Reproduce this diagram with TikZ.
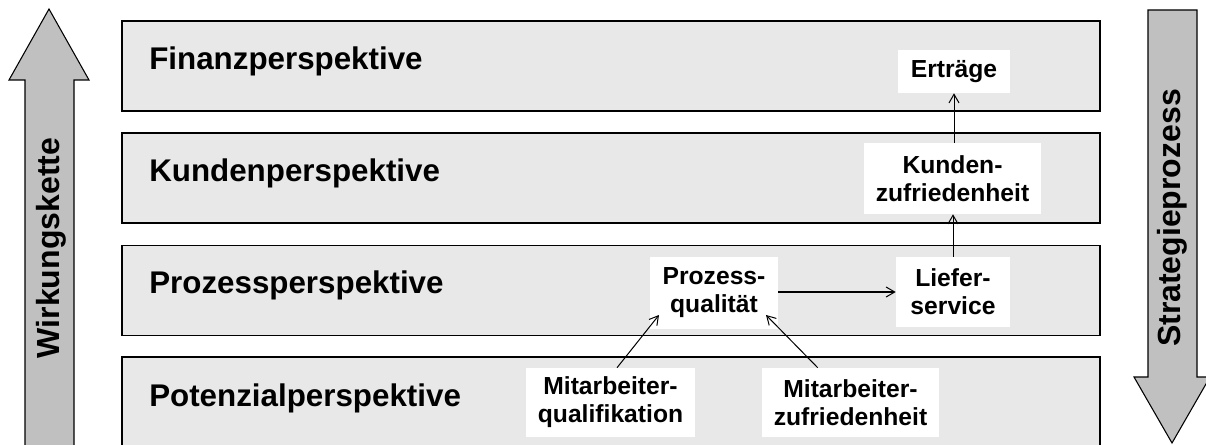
\documentclass[tikz,border=0pt]{standalone}
\usepackage{fontspec}
\setmainfont{Liberation Sans}
\usetikzlibrary{arrows.meta,calc}
\definecolor{bandgrey}{HTML}{E8E8E8}
\definecolor{arrowgrey}{HTML}{C0C0C0}
\tikzset{
  band/.style={draw=black, line width=1.1pt, fill=bandgrey, minimum width=733.5pt, minimum height=67.5pt, inner sep=0pt},
  bandtext/.style={anchor=base west, inner sep=0pt, font=\fontsize{23.5pt}{28pt}\selectfont\bfseries},
  kpi/.style={fill=white, inner sep=0pt, align=center, font=\fontsize{18.5pt}{21pt}\selectfont\bfseries},
  bigarrow/.style={draw=black, line width=0.8pt, fill=arrowgrey, line join=miter},
  bigtext/.style={rotate=90, anchor=base, inner sep=0pt, font=\fontsize{24pt}{28pt}\selectfont\bfseries},
  conn/.style={draw=black, line width=0.75pt, -{Straight Barb[length=6.5pt,width=7.5pt]}}
}
\begin{document}
\begin{tikzpicture}[x=0.75pt, y=-0.75pt]
\useasboundingbox[fill=white] (0,0) rectangle (1206,445);
% bands
\node[band] (b1) at (611,66) {};
\node[band] (b2) at (611,178) {};
\node[band] (b3) at (611,290.5) {};
\node[band] (b4) at (611,402) {};
\node[bandtext] (t1) at (149,70) {Finanzperspektive};
\node[bandtext] (t2) at (149,182) {Kundenperspektive};
\node[bandtext] (t3) at (149,294) {Prozessperspektive};
\node[bandtext] (t4) at (149,406) {Potenzialperspektive};
% big arrows
\draw[bigarrow] (25,450) -- (25,80) -- (9,80) -- (49,9) -- (89,80) -- (74,80) -- (74,450) -- cycle;
\node[bigtext] (wk) at (59,248) {Wirkungskette};
\draw[bigarrow] (1148,10) -- (1197,10) -- (1197,377) -- (1210,377) -- (1172,443) -- (1134,377) -- (1148,377) -- cycle;
\node[bigtext] (sp) at (1180,218) {Strategieprozess};
% KPI boxes
\node[kpi, minimum width=84pt, minimum height=32.25pt] (er) at (954,71.5) {Erträge};
\node[kpi, minimum width=132.75pt, minimum height=53.25pt] (kz) at (952.5,178.5) {Kunden-\\zufriedenheit};
\node[kpi, minimum width=85.5pt, minimum height=52.5pt] (ls) at (953,292) {Liefer-\\service};
\node[kpi, minimum width=96pt, minimum height=54pt] (pq) at (714,293) {Prozess-\\qualität};
\node[kpi, minimum width=126.75pt, minimum height=51.75pt] (mq) at (610.5,402.5) {Mitarbeiter-\\qualifikation};
\node[kpi, minimum width=132.75pt, minimum height=51.75pt] (mz) at (850.5,402.5) {Mitarbeiter-\\zufriedenheit};
% connectors
\draw[conn] (kz.north -| er.south) -- (er.south);
\draw[conn] (ls.north) -- (kz.south -| ls.north);
\draw[conn] (pq.east |- ls.west) -- (ls.west);
\coordinate (tip1) at (659,315);
\coordinate (tip2) at (766,315);
\draw[conn] ($(mq.north)+(6.5,0)$) -- (tip1);
\draw[conn] ($(mz.north west)+(56,0)$) -- (tip2);
\end{tikzpicture}
\end{document}
